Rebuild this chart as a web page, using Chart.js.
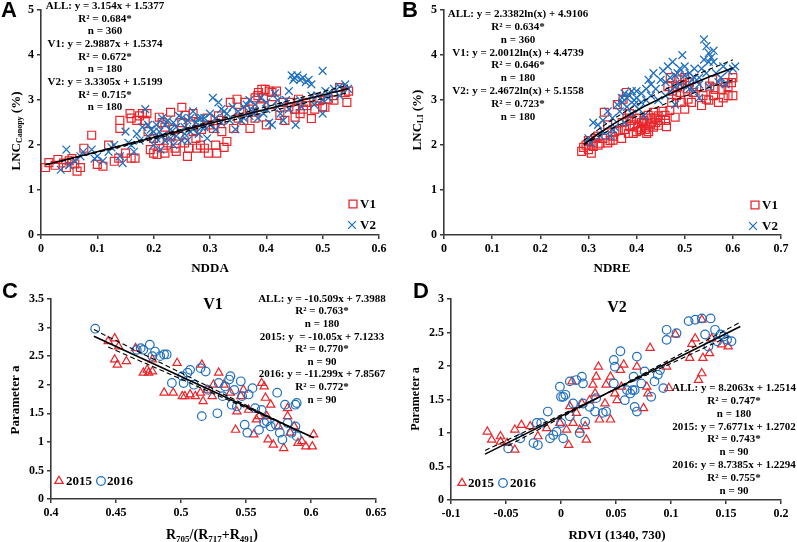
<!DOCTYPE html>
<html>
<head>
<meta charset="utf-8">
<script src="https://cdn.jsdelivr.net/npm/chart.js@4.4.0/dist/chart.umd.min.js"></script>
<style>
html, body { margin: 0; padding: 0; background: #fff; }
#wrap { position: relative; width: 797px; height: 542px; overflow: hidden; }
canvas { position: absolute; }
</style>
</head>
<body>
<div id="wrap">
  <canvas id="chartA" width="400" height="278" style="left:0;top:0"></canvas>
  <canvas id="chartB" width="397" height="278" style="left:400px;top:0"></canvas>
  <canvas id="chartC" width="400" height="271" style="left:0;top:271px"></canvas>
  <canvas id="chartD" width="397" height="271" style="left:400px;top:271px"></canvas>
</div>
<script>
// ---- panel A : LNC canopy vs NDDA ----
const aLabels = ['V1', 'V2'];
const aXTicks = [0, 0.1, 0.2, 0.3, 0.4, 0.5, 0.6];
const aYTicks = [0, 1, 2, 3, 4, 5];
const aV1 = [[0.008,1.50],[0.014,1.61],[0.025,1.55],[0.03,1.68],[0.04,1.60],[0.045,1.50],[0.05,1.65],[0.055,1.70],[0.06,1.58],[0.064,1.42],[0.07,1.50],[0.076,1.93],[0.09,2.22],[0.1,1.57],[0.11,1.53],[0.12,2.0],[0.13,1.64],[0.138,1.71],[0.14,2.55],[0.14,2.37],[0.15,1.82],[0.158,2.70],[0.16,1.71],[0.16,2.6],[0.167,1.71],[0.17,2.55],[0.175,2.65],[0.18,2.70],[0.185,2.55],[0.188,2.70],[0.19,2.3],[0.194,1.90],[0.2,1.82],[0.2,2.15],[0.206,1.79],[0.21,2.62],[0.21,2.1],[0.215,2.5],[0.217,1.93],[0.22,1.82],[0.22,2.4],[0.225,2.05],[0.23,2.73],[0.23,2.2],[0.235,2.35],[0.238,1.93],[0.24,1.86],[0.245,2.2],[0.25,2.84],[0.25,2.5],[0.255,2.05],[0.256,2.66],[0.26,1.75],[0.262,1.93],[0.265,2.45],[0.27,2.70],[0.27,2.3],[0.275,2.15],[0.277,1.93],[0.28,2.5],[0.283,2.0],[0.285,2.35],[0.29,1.93],[0.295,2.6],[0.297,1.82],[0.3,2.45],[0.306,2.37],[0.31,2.0],[0.312,1.82],[0.315,2.65],[0.32,2.55],[0.321,2.30],[0.325,1.95],[0.33,2.08],[0.336,2.95],[0.342,2.37],[0.348,3.02],[0.35,2.6],[0.353,2.73],[0.36,2.55],[0.362,2.95],[0.37,2.8],[0.371,2.37],[0.377,2.73],[0.38,3.05],[0.38,2.6],[0.385,3.1],[0.386,3.17],[0.39,2.85],[0.392,3.24],[0.395,3.05],[0.398,3.24],[0.4,2.45],[0.405,3.2],[0.41,3.17],[0.41,2.9],[0.418,3.2],[0.424,2.66],[0.43,2.95],[0.433,2.55],[0.44,2.85],[0.442,2.95],[0.45,2.8],[0.451,2.62],[0.457,3.02],[0.46,2.7],[0.466,2.8],[0.47,2.95],[0.472,2.88],[0.48,2.59],[0.486,2.8],[0.49,3.05],[0.495,2.99],[0.5,2.85],[0.504,2.84],[0.51,3.02],[0.519,3.1],[0.52,3.0],[0.53,3.28],[0.54,3.17],[0.543,2.95],[0.546,3.2]];
const aV2 = [[0.035,1.45],[0.045,1.9],[0.05,1.55],[0.06,1.65],[0.07,1.75],[0.075,1.85],[0.09,1.9],[0.095,1.7],[0.1,1.75],[0.11,1.65],[0.12,1.85],[0.125,1.95],[0.13,2.0],[0.14,1.75],[0.145,1.6],[0.15,2.3],[0.155,2.05],[0.16,2.0],[0.165,1.85],[0.17,2.25],[0.175,2.1],[0.18,2.4],[0.185,2.8],[0.19,2.2],[0.19,2.45],[0.195,2.35],[0.2,2.0],[0.2,2.3],[0.205,2.45],[0.205,2.15],[0.21,2.3],[0.212,1.9],[0.215,2.6],[0.215,2.2],[0.22,2.1],[0.22,2.45],[0.225,2.55],[0.23,2.35],[0.23,2.15],[0.235,2.0],[0.235,2.5],[0.24,2.2],[0.24,2.4],[0.245,2.65],[0.25,2.1],[0.25,2.6],[0.255,2.4],[0.255,2.25],[0.26,2.55],[0.26,2.1],[0.265,2.3],[0.265,2.6],[0.27,2.75],[0.27,2.35],[0.275,2.5],[0.28,2.25],[0.28,2.6],[0.285,2.6],[0.285,2.4],[0.29,2.4],[0.29,2.6],[0.295,2.15],[0.3,2.7],[0.3,2.45],[0.305,3.05],[0.31,2.6],[0.31,2.35],[0.315,2.95],[0.32,2.5],[0.32,2.8],[0.325,2.75],[0.33,2.7],[0.335,2.55],[0.34,2.85],[0.345,2.35],[0.35,2.75],[0.355,2.55],[0.36,2.6],[0.36,2.85],[0.365,2.9],[0.37,3.0],[0.37,2.65],[0.375,2.75],[0.38,2.9],[0.38,2.75],[0.385,2.6],[0.39,3.05],[0.395,2.7],[0.4,2.8],[0.4,2.95],[0.405,2.5],[0.41,2.45],[0.415,3.15],[0.42,2.85],[0.42,3.0],[0.425,2.7],[0.43,2.55],[0.435,3.0],[0.44,3.2],[0.44,2.8],[0.445,3.55],[0.448,3.45],[0.45,3.5],[0.452,2.45],[0.455,3.55],[0.46,3.45],[0.46,3.0],[0.462,2.85],[0.465,3.5],[0.47,3.4],[0.475,3.45],[0.48,3.35],[0.48,3.1],[0.485,2.9],[0.49,3.1],[0.5,3.65],[0.5,2.7],[0.5,3.0],[0.505,3.2],[0.51,3.05],[0.51,3.15],[0.52,3.25],[0.53,3.3],[0.53,3.1],[0.54,3.35],[0.545,3.25]];
const aFits = [[3.154, 1.5377], [2.9887, 1.5374], [3.3305, 1.5199]];
const aFitX = [[0.008, 0.546], [0.008, 0.546], [0.035, 0.545]];
const aEq = ['ALL: y = 3.154x + 1.5377', 'R² = 0.684*', 'n = 360', 'V1: y = 2.9887x + 1.5374', 'R² = 0.672*', 'n = 180', 'V2: y = 3.3305x + 1.5199', 'R² = 0.715*', 'n = 180'];

// ---- panel B : LNC LI vs NDRE ----
const bLabels = ['V1', 'V2'];
const bXTicks = [0, 0.1, 0.2, 0.3, 0.4, 0.5, 0.6, 0.7];
const bYTicks = [0, 1, 2, 3, 4, 5];
const bV1 = [[0.286,1.86],[0.29,1.95],[0.295,2.0],[0.3,2.1],[0.3,1.9],[0.306,1.82],[0.31,1.97],[0.31,2.05],[0.315,2.15],[0.32,2.2],[0.32,2.0],[0.324,2.04],[0.33,2.15],[0.333,2.73],[0.34,2.45],[0.34,2.05],[0.345,2.1],[0.35,2.2],[0.351,2.11],[0.355,2.3],[0.36,2.9],[0.362,2.33],[0.369,2.15],[0.37,2.5],[0.372,3.02],[0.375,2.35],[0.379,3.17],[0.38,2.6],[0.383,2.26],[0.385,2.7],[0.386,2.41],[0.39,2.55],[0.393,2.26],[0.395,2.45],[0.4,2.59],[0.4,2.3],[0.403,2.4],[0.405,2.6],[0.407,2.33],[0.41,2.5],[0.41,2.35],[0.414,2.48],[0.415,2.55],[0.418,2.35],[0.42,2.4],[0.421,2.26],[0.424,2.66],[0.425,2.3],[0.428,2.45],[0.43,2.6],[0.431,2.51],[0.435,2.73],[0.435,2.4],[0.438,2.6],[0.44,2.5],[0.445,2.44],[0.445,2.65],[0.45,2.55],[0.455,2.75],[0.459,2.66],[0.46,2.55],[0.462,2.41],[0.465,3.3],[0.469,2.77],[0.47,3.5],[0.473,2.95],[0.475,3.2],[0.48,2.62],[0.483,3.1],[0.485,3.3],[0.49,3.17],[0.49,3.45],[0.493,2.95],[0.495,3.35],[0.5,2.8],[0.5,3.5],[0.505,3.25],[0.507,3.02],[0.51,3.4],[0.514,2.95],[0.518,3.17],[0.525,3.3],[0.535,2.88],[0.538,3.1],[0.545,3.02],[0.55,3.0],[0.552,3.31],[0.558,3.45],[0.56,3.1],[0.563,3.24],[0.57,2.95],[0.577,3.24],[0.58,3.05],[0.584,3.39],[0.59,3.1],[0.59,3.3],[0.597,3.39],[0.6,3.1],[0.6,3.5]];
const bV2 = [[0.3,2.15],[0.305,2.05],[0.31,2.5],[0.32,2.45],[0.325,2.2],[0.33,2.3],[0.33,2.55],[0.34,2.75],[0.345,2.2],[0.35,2.6],[0.35,2.35],[0.355,2.4],[0.36,2.9],[0.365,2.75],[0.37,3.05],[0.37,2.95],[0.375,2.5],[0.375,3.15],[0.38,2.85],[0.38,3.05],[0.385,3.1],[0.39,2.7],[0.39,3.2],[0.395,3.0],[0.395,2.9],[0.4,3.2],[0.4,3.05],[0.405,2.8],[0.41,3.15],[0.41,2.95],[0.415,2.65],[0.42,3.0],[0.42,3.25],[0.425,3.45],[0.43,3.35],[0.43,3.1],[0.435,3.6],[0.44,3.25],[0.445,3.0],[0.45,3.45],[0.455,3.65],[0.46,3.1],[0.46,3.4],[0.465,3.75],[0.47,3.5],[0.47,3.2],[0.475,3.85],[0.48,3.3],[0.48,2.9],[0.48,3.55],[0.485,3.6],[0.49,3.7],[0.49,3.35],[0.495,4.0],[0.5,3.55],[0.5,3.75],[0.505,3.3],[0.51,3.6],[0.51,3.25],[0.515,3.45],[0.52,3.2],[0.52,3.5],[0.52,3.7],[0.53,3.35],[0.53,3.05],[0.53,3.5],[0.535,3.7],[0.54,4.35],[0.54,3.9],[0.545,4.2],[0.545,3.6],[0.55,4.05],[0.55,3.85],[0.55,3.3],[0.555,3.95],[0.56,4.1],[0.56,3.85],[0.565,3.6],[0.57,3.4],[0.575,3.5],[0.58,3.75],[0.585,3.35],[0.59,3.65],[0.6,3.7],[0.605,3.75]];
const bFits = [[2.3382, 4.9106], [2.0012, 4.4739], [2.4672, 5.1558]];
const bFitX = [0.29, 0.32, 0.35, 0.38, 0.42, 0.46, 0.5, 0.55, 0.6];
const bEq = ['ALL: y = 2.3382ln(x) + 4.9106', 'R² = 0.634*', 'n = 360', 'V1: y = 2.0012ln(x) + 4.4739', 'R² = 0.646*', 'n = 180', 'V2: y = 2.4672ln(x) + 5.1558', 'R² = 0.723*', 'n = 180'];

// ---- panel C : parameter a vs R705/(R717+R491), V1 ----
const cLabels = ['2015', '2016'];
const cXTicks = [0.4, 0.45, 0.5, 0.55, 0.6, 0.65];
const cYTicks = [0, 0.5, 1, 1.5, 2, 2.5, 3, 3.5];
const c2015 = [[0.444,2.76],[0.449,2.81],[0.449,2.44],[0.451,2.35],[0.452,2.67],[0.458,2.41],[0.465,2.64],[0.471,2.21],[0.474,2.26],[0.475,2.21],[0.478,2.23],[0.478,2.44],[0.487,1.86],[0.494,1.86],[0.497,2.38],[0.501,1.80],[0.503,1.80],[0.507,1.83],[0.511,1.80],[0.515,1.86],[0.516,2.35],[0.517,1.71],[0.52,1.91],[0.524,1.80],[0.525,2.0],[0.529,2.21],[0.533,2.0],[0.538,1.86],[0.542,1.21],[0.543,1.53],[0.546,1.80],[0.548,1.91],[0.552,1.56],[0.556,1.13],[0.558,1.39],[0.56,1.45],[0.562,2.03],[0.564,1.97],[0.565,1.77],[0.566,1.45],[0.567,1.04],[0.569,1.65],[0.571,0.95],[0.575,1.27],[0.579,0.89],[0.582,1.59],[0.582,1.45],[0.584,1.16],[0.587,1.27],[0.59,0.98],[0.593,1.01],[0.596,0.92],[0.601,0.92],[0.602,1.13]];
const c2016 = [[0.434,2.98],[0.466,2.61],[0.469,2.64],[0.471,2.61],[0.476,2.70],[0.478,2.50],[0.48,2.58],[0.484,2.5],[0.487,2.53],[0.489,2.53],[0.493,2.03],[0.501,2.15],[0.502,2.03],[0.505,2.21],[0.507,2.26],[0.51,2.0],[0.515,2.29],[0.516,1.45],[0.519,2.23],[0.521,1.91],[0.528,1.5],[0.529,2.03],[0.532,1.80],[0.534,1.97],[0.537,2.09],[0.538,2.15],[0.539,1.65],[0.541,1.91],[0.543,1.62],[0.546,2.06],[0.547,1.80],[0.549,1.30],[0.551,1.16],[0.552,1.83],[0.555,1.94],[0.557,1.59],[0.56,1.21],[0.562,1.56],[0.564,1.33],[0.566,1.36],[0.569,1.27],[0.573,1.30],[0.574,1.86],[0.576,1.16],[0.578,1.04],[0.58,1.65],[0.582,1.33],[0.585,1.16],[0.588,1.27],[0.588,1.65],[0.589,1.68],[0.589,1.10]];
const cFits = [[-10.509, 7.3988], [-10.05, 7.1233], [-11.299, 7.8567]];
const cFitX = [[0.433, 0.602], [0.444, 0.602], [0.433, 0.59]];
const cEq = ['ALL: y = -10.509x + 7.3988', 'R² = 0.763*', 'n = 180', '2015: y  = -10.05x + 7.1233', 'R² = 0.770*', 'n = 90', '2016: y = -11.299x + 7.8567', 'R² = 0.772*', 'n = 90'];

// ---- panel D : parameter a vs RDVI(1340,730), V2 ----
const dLabels = ['2015', '2016'];
const dXTicks = [-0.1, -0.05, 0, 0.05, 0.1, 0.15, 0.2];
const dYTicks = [0, 0.5, 1, 1.5, 2, 2.5, 3];
const d2015 = [[-0.067,1.02],[-0.063,0.90],[-0.055,0.95],[-0.055,0.87],[-0.049,0.85],[-0.042,1.05],[-0.042,0.75],[-0.036,1.12],[-0.028,1.10],[-0.021,0.95],[-0.013,1.07],[-0.001,1.15],[0.005,1.05],[0.007,0.82],[0.008,1.40],[0.01,1.77],[0.011,1.15],[0.014,1.30],[0.017,1.05],[0.019,1.44],[0.022,1.10],[0.023,0.90],[0.026,1.49],[0.029,1.72],[0.031,1.59],[0.032,1.84],[0.034,1.99],[0.035,1.20],[0.04,1.44],[0.041,1.72],[0.045,1.84],[0.045,1.20],[0.049,1.59],[0.051,1.49],[0.054,1.94],[0.055,1.69],[0.057,2.02],[0.069,1.99],[0.075,1.37],[0.078,1.69],[0.079,1.59],[0.081,2.27],[0.096,1.99],[0.098,1.67],[0.104,2.47],[0.117,2.12],[0.119,2.33],[0.122,2.41],[0.125,1.79],[0.128,2.69],[0.128,1.89],[0.129,2.12],[0.135,2.19],[0.137,2.41],[0.146,2.32],[0.152,2.29]];
const d2016 = [[-0.048,0.77],[-0.037,0.92],[-0.025,0.85],[-0.022,1.15],[-0.021,0.82],[-0.018,1.15],[-0.012,1.32],[-0.01,0.92],[-0.007,0.97],[-0.004,1.02],[-0.001,1.69],[0.0,1.54],[0.0,1.15],[0.002,1.54],[0.002,0.92],[0.004,1.57],[0.008,1.77],[0.008,1.25],[0.011,1.44],[0.014,1.79],[0.017,1.0],[0.019,1.84],[0.02,1.74],[0.02,1.44],[0.022,1.17],[0.026,1.39],[0.031,1.32],[0.032,1.52],[0.038,1.30],[0.041,1.32],[0.048,1.74],[0.048,2.09],[0.049,1.99],[0.054,2.22],[0.058,1.49],[0.06,1.64],[0.063,1.59],[0.065,1.64],[0.066,1.84],[0.067,1.64],[0.067,1.39],[0.069,2.14],[0.069,1.32],[0.073,1.74],[0.076,1.92],[0.082,1.54],[0.085,1.77],[0.088,1.87],[0.09,1.94],[0.093,1.67],[0.096,2.39],[0.096,2.54],[0.105,2.49],[0.116,2.67],[0.122,2.69],[0.128,2.71],[0.131,2.47],[0.134,2.29],[0.136,2.71],[0.14,2.54],[0.142,2.37],[0.145,2.47],[0.148,2.44],[0.151,2.39],[0.155,2.37]];
const dFits = [[8.2063, 1.2514], [7.6771, 1.2702], [8.7385, 1.2294]];
const dFitX = [[-0.069, 0.163], [-0.069, 0.155], [-0.048, 0.163]];
const dEq = ['ALL: y = 8.2063x + 1.2514', 'R² = 0.747*', 'n = 180', '2015: y = 7.6771x + 1.2702', 'R² = 0.743*', 'n = 90', '2016: y = 8.7385x + 1.2294', 'R² = 0.755*', 'n = 90'];

const RED = '#e8262b';
const BLUE = '#1f6fbf';
const AXIS = '#3a3a3a';
const SERIF = '"Liberation Serif", "Times New Roman", serif';

function fmtTick(v) {
  return String(Math.round(v * 1000) / 1000);
}

function linePts(coef, range) {
  return range.map(x => ({ x, y: coef[0] * x + coef[1] }));
}

function logPts(coef, xs) {
  return xs.map(x => ({ x, y: coef[0] * Math.log(x) + coef[1] }));
}

function drawRich(ctx, parts, x, y, rot, size) {
  ctx.save();
  ctx.translate(x, y);
  ctx.rotate(rot);
  ctx.textAlign = 'left';
  ctx.textBaseline = 'alphabetic';
  const fonts = parts.map(p => 'bold ' + (p[1] ? Math.round(size * 0.62) : size) + 'px ' + SERIF);
  let total = 0;
  parts.forEach((p, i) => { ctx.font = fonts[i]; total += ctx.measureText(p[0]).width; });
  let cx = -total / 2;
  const base = size * 0.35;
  parts.forEach((p, i) => {
    ctx.font = fonts[i];
    ctx.fillText(p[0], cx, p[1] ? base + size * 0.22 : base);
    cx += ctx.measureText(p[0]).width;
  });
  ctx.restore();
}

function decor(cfg) {
  return {
    id: 'decor',
    afterDraw(chart) {
      const ctx = chart.ctx;
      ctx.save();
      ctx.fillStyle = '#000';
      ctx.textBaseline = 'middle';
      ctx.textAlign = 'left';
      ctx.font = 'bold 22px "Liberation Sans", Arial, sans-serif';
      ctx.fillText(cfg.letter, cfg.letterPos[0], cfg.letterPos[1]);

      drawRich(ctx, cfg.xTitle, cfg.xTitlePos[0], cfg.xTitlePos[1], 0, cfg.xTitleSize);
      drawRich(ctx, cfg.yTitle, cfg.yTitlePos[0], cfg.yTitlePos[1], -Math.PI / 2, cfg.yTitleSize);

      ctx.textBaseline = 'middle';
      ctx.textAlign = 'center';
      ctx.font = 'bold 11px ' + SERIF;
      cfg.eq.forEach((t, i) => ctx.fillText(t, cfg.eqPos[0], cfg.eqPos[1] + i * cfg.eqStep));

      if (cfg.title) {
        ctx.font = 'bold 16px ' + SERIF;
        ctx.fillText(cfg.title, cfg.titlePos[0], cfg.titlePos[1]);
      }

      cfg.legend.forEach(item => {
        ctx.strokeStyle = item.color;
        ctx.fillStyle = 'rgba(0,0,0,0)';
        ctx.lineWidth = 1.3;
        Chart.helpers.drawPoint(ctx, { pointStyle: item.style, radius: item.radius, rotation: 0, borderWidth: 1.3 }, item.x, item.y);
        ctx.fillStyle = '#000';
        ctx.font = 'bold 13px ' + SERIF;
        ctx.textAlign = 'left';
        ctx.fillText(item.text, item.tx, item.y + 1);
      });
      ctx.restore();
    }
  };
}

function axis(min, max, ticks, fit) {
  return {
    type: 'linear',
    min, max,
    afterBuildTicks: sc => { sc.ticks = ticks.map(v => ({ value: v })); },
    afterFit: fit,
    ticks: {
      autoSkip: false, maxRotation: 0, color: '#000', padding: 3,
      font: { family: SERIF, size: 12, weight: 'bold' },
      callback: v => fmtTick(v)
    },
    grid: { display: true, drawOnChartArea: false, drawTicks: true, tickLength: 4, color: AXIS, lineWidth: 1.5 },
    border: { display: true, color: AXIS, width: 1.6 }
  };
}

function makePanel(p) {
  const canvas = document.getElementById(p.id);
  const datasets = [];
  p.fits.forEach((pts, i) => {
    datasets.push({
      data: pts, showLine: true, pointRadius: 0, borderColor: '#000',
      borderWidth: i === 0 ? 1.6 : 1.1, borderDash: i === 0 ? [] : [5, 3],
      fill: false, tension: 0, order: 0
    });
  });
  p.series.forEach((s, i) => {
    datasets.push({
      label: s.label,
      data: s.points.map(q => ({ x: q[0], y: q[1] })),
      pointStyle: s.style, pointRadius: s.radius,
      pointBorderColor: s.color, pointBackgroundColor: 'rgba(0,0,0,0)',
      pointBorderWidth: 1.2, showLine: false, order: 2 - i
    });
  });
  return new Chart(canvas, {
    type: 'scatter',
    data: { datasets },
    options: {
      responsive: false,
      animation: false,
      events: [],
      layout: { padding: { left: 0, top: p.area.top, right: canvas.width - p.area.right, bottom: 0 } },
      plugins: { legend: { display: false }, tooltip: { enabled: false } },
      scales: {
        x: axis(p.xRange[0], p.xRange[1], p.xTicks, sc => { sc.height = canvas.height - p.area.bottom; }),
        y: axis(p.yRange[0], p.yRange[1], p.yTicks, sc => { sc.width = p.area.left; })
      }
    },
    plugins: [decor(p.decor)]
  });
}

function init() {
  makePanel({
    id: 'chartA',
    area: { left: 41, right: 379, top: 6, bottom: 235 },
    xRange: [0, 0.6], yRange: [0, 5], xTicks: aXTicks, yTicks: aYTicks,
    series: [
      { label: aLabels[0], points: aV1, style: 'rect', radius: 5.6, color: RED },
      { label: aLabels[1], points: aV2, style: 'crossRot', radius: 5.5, color: BLUE }
    ],
    fits: aFits.map((c, i) => linePts(c, aFitX[i])),
    decor: {
      letter: 'A', letterPos: [1, 11],
      xTitle: [['NDDA', 0]], xTitlePos: [210, 267], xTitleSize: 13,
      yTitle: [['LNC', 0], ['Canopy', 1], [' (%)', 0]], yTitlePos: [15, 131], yTitleSize: 13,
      eq: aEq, eqPos: [105, 6], eqStep: 12.7,
      legend: [
        { style: 'rect', radius: 5.6, color: RED, x: 353, y: 204, text: aLabels[0], tx: 360 },
        { style: 'crossRot', radius: 5.5, color: BLUE, x: 352, y: 225, text: aLabels[1], tx: 360 }
      ]
    }
  });

  makePanel({
    id: 'chartB',
    area: { left: 44, right: 381, top: 6, bottom: 235 },
    xRange: [0, 0.7], yRange: [0, 5], xTicks: bXTicks, yTicks: bYTicks,
    series: [
      { label: bLabels[0], points: bV1, style: 'rect', radius: 5.6, color: RED },
      { label: bLabels[1], points: bV2, style: 'crossRot', radius: 5.5, color: BLUE }
    ],
    fits: bFits.map(c => logPts(c, bFitX)),
    decor: {
      letter: 'B', letterPos: [2, 11],
      xTitle: [['NDRE', 0]], xTitlePos: [212, 267], xTitleSize: 13,
      yTitle: [['LNC', 0], ['LI', 1], [' (%)', 0]], yTitlePos: [16, 120], yTitleSize: 13,
      eq: bEq, eqPos: [118, 14], eqStep: 12.9,
      legend: [
        { style: 'rect', radius: 5.6, color: RED, x: 355, y: 205, text: bLabels[0], tx: 362 },
        { style: 'crossRot', radius: 5.5, color: BLUE, x: 353, y: 226, text: bLabels[1], tx: 362 }
      ]
    }
  });

  makePanel({
    id: 'chartC',
    area: { left: 51, right: 376, top: 28, bottom: 228 },
    xRange: [0.4, 0.65], yRange: [0, 3.5], xTicks: cXTicks, yTicks: cYTicks,
    series: [
      { label: cLabels[0], points: c2015, style: 'triangle', radius: 4.8, color: RED },
      { label: cLabels[1], points: c2016, style: 'circle', radius: 4.3, color: BLUE }
    ],
    fits: cFits.map((c, i) => linePts(c, cFitX[i])),
    decor: {
      letter: 'C', letterPos: [2, 21],
      xTitle: [['R', 0], ['705', 1], ['/(R', 0], ['717', 1], ['+R', 0], ['491', 1], [')', 0]], xTitlePos: [212, 263], xTitleSize: 14,
      yTitle: [['Parameter a', 0]], yTitlePos: [14, 129], yTitleSize: 13,
      eq: cEq, eqPos: [322, 28], eqStep: 12.6,
      title: 'V1', titlePos: [213, 34],
      legend: [
        { style: 'triangle', radius: 4.8, color: RED, x: 59, y: 210, text: cLabels[0], tx: 66 },
        { style: 'circle', radius: 4.3, color: BLUE, x: 101, y: 210, text: cLabels[1], tx: 107 }
      ]
    }
  });

  makePanel({
    id: 'chartD',
    area: { left: 51, right: 381, top: 28, bottom: 229 },
    xRange: [-0.1, 0.2], yRange: [0, 3], xTicks: dXTicks, yTicks: dYTicks,
    series: [
      { label: dLabels[0], points: d2015, style: 'triangle', radius: 4.8, color: RED },
      { label: dLabels[1], points: d2016, style: 'circle', radius: 4.3, color: BLUE }
    ],
    fits: dFits.map((c, i) => linePts(c, dFitX[i])),
    decor: {
      letter: 'D', letterPos: [13, 21],
      xTitle: [['RDVI (1340, 730)', 0]], xTitlePos: [217, 263], xTitleSize: 13,
      yTitle: [['Parameter a', 0]], yTitlePos: [15, 128], yTitleSize: 12,
      eq: dEq, eqPos: [334, 117], eqStep: 12.9,
      title: 'V2', titlePos: [217, 37],
      legend: [
        { style: 'triangle', radius: 4.8, color: RED, x: 62, y: 212, text: dLabels[0], tx: 68 },
        { style: 'circle', radius: 4.3, color: BLUE, x: 103, y: 212, text: dLabels[1], tx: 110 }
      ]
    }
  });
}

document.addEventListener('DOMContentLoaded', init);
</script>
</body>
</html>
